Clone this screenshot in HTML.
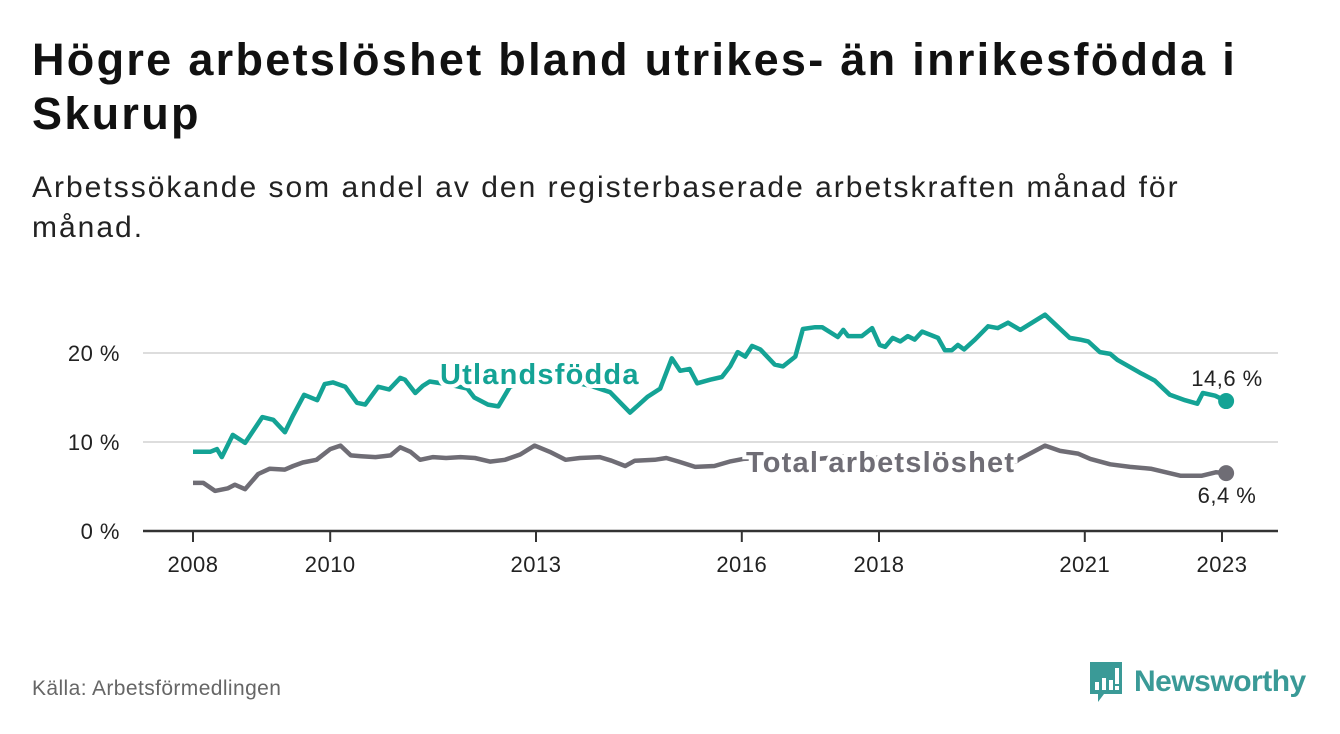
<!DOCTYPE html>
<html><head><meta charset="utf-8">
<style>
body{margin:0;width:1340px;height:734px;background:#fff;font-family:"Liberation Sans",sans-serif;overflow:hidden;position:relative}
h1{position:absolute;left:32px;top:33px;margin:0;font-size:45px;line-height:54px;font-weight:bold;color:#111;width:1300px;letter-spacing:2.3px;white-space:nowrap}
.sub{position:absolute;left:32px;top:168px;margin:0;font-size:30px;line-height:40px;color:#222;width:1300px;letter-spacing:2px;white-space:nowrap}
.src{position:absolute;left:32px;top:677px;font-size:21px;color:#666;letter-spacing:0.4px}
.logo{position:absolute;left:1088px;top:660px;display:flex;align-items:center}
.logo span{font-size:30px;color:#3a9a97;font-weight:bold;margin-left:10px;letter-spacing:-0.5px}
</style></head><body>
<h1>Högre arbetslöshet bland utrikes- än inrikesfödda i<br>Skurup</h1>
<p class="sub">Arbetssökande som andel av den registerbaserade arbetskraften månad för<br>månad.</p>
<svg id="chart" width="1340" height="734" style="position:absolute;left:0;top:0"></svg>
<div class="src">Källa: Arbetsförmedlingen</div>
<div class="logo">
<svg width="36" height="44" viewBox="0 0 36 44"><path d="M2 2h32v32H16l-6 8v-8H2z" fill="#3a9a97"/><rect x="7" y="22" width="4" height="8" fill="#fff"/><rect x="14" y="18" width="4" height="12" fill="#fff"/><rect x="21" y="20" width="4" height="10" fill="#fff"/><rect x="27" y="8" width="4" height="16" fill="#fff"/><rect x="27" y="26" width="4" height="4" fill="#fff"/></svg>
<span>Newsworthy</span></div>
<script>
const utlT=[2008.0,2008.25,2008.35,2008.42,2008.58,2008.76,2009.01,2009.17,2009.34,2009.46,2009.62,2009.81,2009.92,2010.04,2010.22,2010.39,2010.51,2010.70,2010.86,2011.02,2011.09,2011.24,2011.35,2011.45,2011.7,2012.0,2012.1,2012.3,2012.45,2012.62,2012.9,2013.2,2013.5,2013.8,2014.08,2014.37,2014.63,2014.81,2014.98,2015.1,2015.24,2015.35,2015.54,2015.71,2015.83,2015.94,2016.05,2016.15,2016.27,2016.48,2016.6,2016.78,2016.89,2017.07,2017.17,2017.4,2017.48,2017.55,2017.75,2017.9,2018.01,2018.09,2018.2,2018.31,2018.42,2018.52,2018.63,2018.86,2018.96,2019.06,2019.15,2019.24,2019.4,2019.59,2019.73,2019.88,2020.06,2020.42,2020.78,2020.93,2021.05,2021.22,2021.37,2021.48,2021.8,2022.02,2022.24,2022.46,2022.64,2022.72,2022.9,2023.06];
const utlV=[8.9,8.9,9.2,8.3,10.8,9.9,12.8,12.5,11.1,13.0,15.3,14.7,16.5,16.7,16.2,14.4,14.2,16.2,15.9,17.2,17.0,15.5,16.3,16.8,16.5,16.0,15.0,14.2,14.0,16.2,17.0,16.5,16.8,16.3,15.6,13.3,15.1,16.0,19.4,18.0,18.2,16.6,17.0,17.3,18.5,20.1,19.6,20.8,20.4,18.7,18.5,19.6,22.7,22.9,22.9,21.8,22.6,21.9,21.9,22.8,20.9,20.7,21.7,21.3,21.9,21.5,22.4,21.7,20.3,20.3,20.9,20.4,21.5,23.0,22.8,23.4,22.6,24.3,21.7,21.5,21.3,20.1,19.9,19.2,17.8,16.9,15.3,14.7,14.3,15.5,15.2,14.6];
const totT=[2008.0,2008.15,2008.32,2008.51,2008.61,2008.76,2008.95,2009.12,2009.34,2009.46,2009.6,2009.8,2010.0,2010.15,2010.3,2010.45,2010.66,2010.88,2011.02,2011.17,2011.31,2011.5,2011.69,2011.9,2012.11,2012.33,2012.55,2012.77,2012.98,2013.2,2013.43,2013.64,2013.93,2014.1,2014.3,2014.44,2014.73,2014.9,2015.08,2015.32,2015.6,2015.82,2016.02,2016.5,2017.0,2017.5,2018.0,2018.5,2019.0,2019.5,2020.0,2020.03,2020.42,2020.64,2020.9,2021.08,2021.37,2021.66,2021.96,2022.4,2022.7,2022.91,2023.06];
const totV=[5.4,5.4,4.5,4.8,5.2,4.7,6.4,7.0,6.9,7.3,7.7,8.0,9.2,9.6,8.5,8.4,8.3,8.5,9.4,8.9,8.0,8.3,8.2,8.3,8.2,7.8,8.0,8.6,9.6,8.9,8.0,8.2,8.3,7.9,7.3,7.9,8.0,8.2,7.8,7.2,7.3,7.8,8.1,8.3,8.0,8.4,8.2,7.9,8.0,8.1,7.8,8.0,9.6,9.0,8.7,8.1,7.5,7.2,7.0,6.2,6.2,6.6,6.5];
const yTicks=[0,10,20];
const xTicks=[2008,2010,2013,2016,2018,2021,2023];
const NS="http://www.w3.org/2000/svg";
const svg=document.getElementById('chart');
const X=t=>193+(t-2008)*68.6;
const Y=v=>531-v*8.9;
function el(tag,attrs,parent){const e=document.createElementNS(NS,tag);for(const k in attrs)e.setAttribute(k,attrs[k]);(parent||svg).appendChild(e);return e;}
yTicks.forEach(v=>{
  if(v>0){const g=el('line',{x1:143,x2:1278,y1:Y(v),y2:Y(v),stroke:'#ddd','stroke-width':2});
  
  }
  const t=el('text',{x:120,y:Y(v)+8,'text-anchor':'end','font-size':22,fill:'#222','letter-spacing':0.5});t.textContent=v+' %';
  
  
});
const ax=el('line',{x1:143,x2:1278,y1:531,y2:531,stroke:'#333','stroke-width':2.5});


xTicks.forEach(y=>{
  const tk=el('line',{x1:X(y),x2:X(y),y1:531,y2:542,stroke:'#333','stroke-width':2});
  
  
  const t=el('text',{x:X(y),y:572,'text-anchor':'middle','font-size':22,fill:'#222','letter-spacing':0.5});t.textContent=y;
  
  
});
function line(T,V,color,name){
  const d=T.map((t,i)=>(i?'L':'M')+X(t).toFixed(1)+' '+Y(V[i]).toFixed(1)).join(' ');
  const p=el('path',{d:d,fill:'none',stroke:color,'stroke-width':4.5,'stroke-linejoin':'round'});
  
  
  const n=T.length-1;
  const c=el('circle',{cx:X(T[n]),cy:Y(V[n]),r:8,fill:color});
  
  
}
line(utlT,utlV,'#14a395','utlandsfodda');
line(totT,totV,'#6f6d75','total');
function lbl(x,y,txt,color,name,bold,anchor){
  const t=el('text',{x:x,y:y,'font-size':bold?29:22,'font-weight':bold?'bold':'normal',fill:color,stroke:'#fff','stroke-width':bold?8:0,'paint-order':'stroke','text-anchor':anchor||'start','letter-spacing':bold?1.2:0.5});
  t.textContent=txt;
  
  
}
lbl(440,384,'Utlandsfödda','#14a395','utlandsfodda-label',true);
lbl(746,472,'Total arbetslöshet','#6f6d75','total-label',true);
const nU=utlV.length-1;
lbl(1227,386,utlV[nU].toFixed(1).replace('.',',')+' %','#222','utlandsfodda-end-value',false,'middle');
lbl(1227,503,'6,4 %','#222','total-end-value',false,'middle');
</script>
</body></html>
